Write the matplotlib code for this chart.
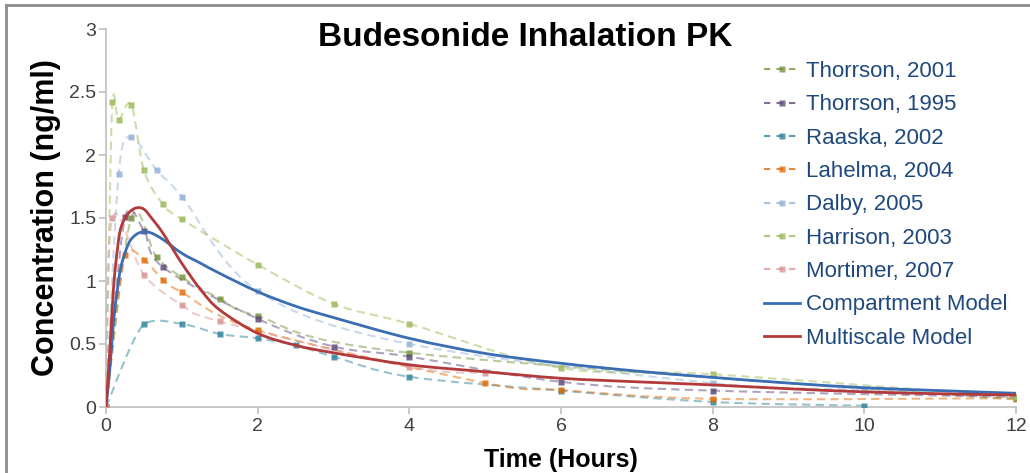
import matplotlib.pyplot as plt
import numpy as np
from matplotlib.lines import Line2D
from matplotlib.patches import PathPatch
from matplotlib.path import Path

plt.rcParams["font.family"] = ["Liberation Sans", "DejaVu Sans"]

# measured concentrations (ng/ml) vs time (h)
thorrson_2001_t = [0, 0.333, 0.667, 1, 1.5, 2, 4, 12]
thorrson_2001_c = [0, 1.50, 1.19, 1.03, 0.86, 0.72, 0.43, 0.06]

thorrson_1995_t = [0, 0.25, 0.5, 0.75, 2, 3, 4, 6, 8, 12]
thorrson_1995_c = [0, 1.51, 1.40, 1.11, 0.70, 0.48, 0.40, 0.20, 0.13, 0.08]

raaska_2002_t = [0, 0.5, 1, 1.5, 2, 2.5, 3, 4, 6, 8, 10]
raaska_2002_c = [0, 0.66, 0.66, 0.58, 0.545, 0.49, 0.40, 0.24, 0.13, 0.04, 0.01]

lahelma_2004_t = [0, 0.25, 0.5, 0.75, 1, 2, 5, 6, 8, 12]
lahelma_2004_c = [0, 1.21, 1.17, 1.01, 0.91, 0.61, 0.19, 0.135, 0.065, 0.07]

dalby_2005_t = [0, 0.167, 0.333, 0.667, 1, 2, 4, 8, 10, 12]
dalby_2005_c = [0, 1.85, 2.14, 1.88, 1.67, 0.92, 0.50, 0.19, 0.135, 0.08]

harrison_2003_t = [0, 0.083, 0.167, 0.333, 0.5, 0.75, 1, 2, 3, 4, 6, 8, 12]
harrison_2003_c = [0, 2.42, 2.28, 2.40, 1.88, 1.61, 1.49, 1.13, 0.82, 0.66, 0.31, 0.26, 0.08]

mortimer_2007_t = [0, 0.083, 0.5, 1, 1.5, 4, 5]
mortimer_2007_c = [0, 1.50, 1.05, 0.81, 0.68, 0.32, 0.27]

# model predictions
model_t = [0, 0.05, 0.1, 0.15, 0.2, 0.3, 0.4, 0.5, 0.6, 0.75, 1, 1.25, 1.5,
           2, 2.5, 3, 4, 5, 6, 7, 8, 9, 10, 11, 12]
compartment_c = [0, 0.30, 0.68, 0.93, 1.12, 1.30, 1.37, 1.39, 1.38, 1.33, 1.22,
                 1.14, 1.06, 0.915, 0.80, 0.71, 0.545, 0.425, 0.347, 0.285,
                 0.235, 0.19, 0.153, 0.13, 0.109]
multiscale_c = [0, 0.45, 0.95, 1.25, 1.43, 1.54, 1.58, 1.57, 1.50, 1.38, 1.14,
                0.93, 0.77, 0.585, 0.49, 0.43, 0.335, 0.28, 0.228, 0.20, 0.175,
                0.145, 0.12, 0.105, 0.095]

studies = [
    ("Thorrson, 2001", thorrson_2001_t, thorrson_2001_c, "#77933c"),
    ("Thorrson, 1995", thorrson_1995_t, thorrson_1995_c, "#604a7b"),
    ("Raaska, 2002", raaska_2002_t, raaska_2002_c, "#31859c"),
    ("Lahelma, 2004", lahelma_2004_t, lahelma_2004_c, "#e46c0a"),
    ("Dalby, 2005", dalby_2005_t, dalby_2005_c, "#95b3d7"),
    ("Harrison, 2003", harrison_2003_t, harrison_2003_c, "#9bbb59"),
    ("Mortimer, 2007", mortimer_2007_t, mortimer_2007_c, "#d99694"),
]


def smooth_path(x, y):
    # catmull-rom through the points as bezier segments,
    # with the bulge limited so short wiggles don't spike
    pts = np.column_stack([x, y]).astype(float)
    n = len(pts)
    verts = [pts[0]]
    codes = [Path.MOVETO]
    for i in range(n - 1):
        p0 = pts[max(i - 1, 0)]
        p1 = pts[i]
        p2 = pts[i + 1]
        p3 = pts[min(i + 2, n - 1)]
        d1 = (p2 - p0) / 6
        d2 = (p3 - p1) / 6
        lim = abs(p2[1] - p1[1]) + 0.05
        d1[1] = np.clip(d1[1], -lim, lim)
        d2[1] = np.clip(d2[1], -lim, lim)
        verts += [p1 + d1, p2 - d2, p2]
        codes += [Path.CURVE4] * 3
    return Path(verts, codes)


fig = plt.figure(figsize=(10.3, 4.73), dpi=100)
ax = fig.add_axes([106 / 1030, 1 - 407 / 473, 910 / 1030, 378 / 473])

handles = []
for name, t, c, col in studies:
    ax.add_patch(PathPatch(smooth_path(t, c), fill=False, edgecolor=col,
                           alpha=0.5, lw=1.5, linestyle=(0, (4, 2.5)), zorder=2))
    ax.plot(t, c, ls="none", marker="s", ms=4.5, color=col, alpha=0.85,
            mec="none", zorder=3)
    handles.append(Line2D([], [], color=col, lw=1.5, ls=(0, (3, 3)),
                          marker="s", ms=4, mec="none", alpha=0.8, label=name))

ax.add_patch(PathPatch(smooth_path(model_t, compartment_c), fill=False,
                       edgecolor="#3a6db3", lw=2, zorder=4))
ax.add_patch(PathPatch(smooth_path(model_t, multiscale_c), fill=False,
                       edgecolor="#b3393a", lw=2, zorder=5))
handles.append(Line2D([], [], color="#3a6db3", lw=2, label="Compartment Model"))
handles.append(Line2D([], [], color="#b3393a", lw=2, label="Multiscale Model"))

ax.set_xlim(0, 12)
ax.set_ylim(0, 3)
ax.set_xticks(range(0, 13, 2))
ax.set_yticks([0, 0.5, 1, 1.5, 2, 2.5, 3])
ax.set_yticklabels(["0", "0.5", "1", "1.5", "2", "2.5", "3"])
for s in ["top", "right"]:
    ax.spines[s].set_visible(False)
for s in ["left", "bottom"]:
    ax.spines[s].set_color("#bfbfbf")
    ax.spines[s].set_linewidth(1.2)
ax.tick_params(colors="#bfbfbf", labelcolor="#404040", labelsize=14,
               length=5, width=1.2)
ax.tick_params(axis="y", pad=2)
ax.tick_params(axis="x", pad=3)

ax.set_xlabel("Time (Hours)", fontsize=18, fontweight="bold", labelpad=9)
ax.set_ylabel("Concentration (ng/ml)", fontsize=22, fontweight="bold",
              labelpad=6)
fig.text(525 / 1030, 1 - 37 / 473, "Budesonide Inhalation PK", fontsize=24,
         fontweight="bold", ha="center", va="center")

fig.legend(handles=handles, loc="upper left",
           bbox_to_anchor=(764 / 1030, 1 - 61 / 473), frameon=False,
           fontsize=16, labelcolor="#1f497d", handlelength=1.6,
           handletextpad=0.3, labelspacing=0.555, borderpad=0, borderaxespad=0)

# outer chart border
fig.add_artist(Line2D([6 / 1030, 6 / 1030], [0, 1 - 5 / 473],
                      transform=fig.transFigure, color="#8c8c8c", lw=2))
fig.add_artist(Line2D([6 / 1030, 1], [1 - 5 / 473, 1 - 5 / 473],
                      transform=fig.transFigure, color="#8c8c8c", lw=2))

fig.savefig("out.png", dpi=100)
